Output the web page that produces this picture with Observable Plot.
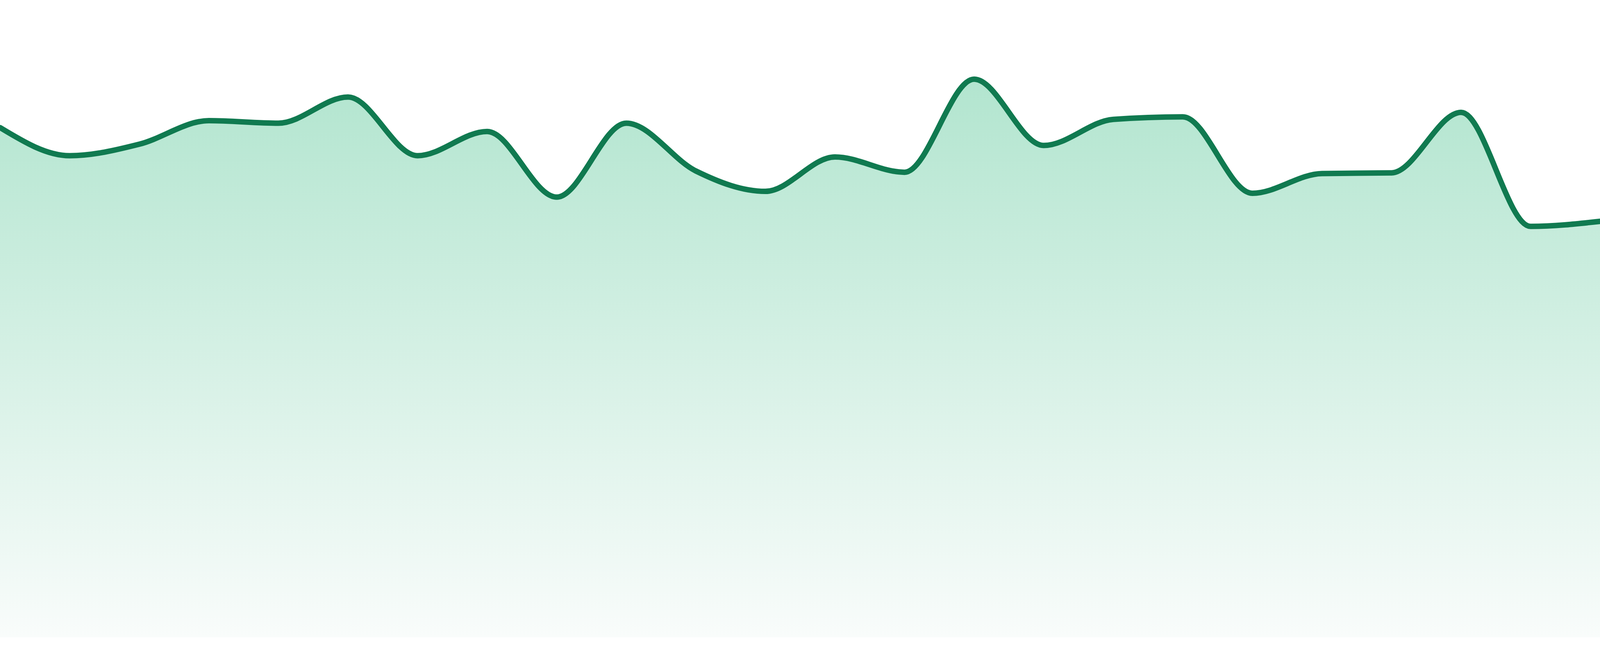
<!DOCTYPE html>
<html>
<head>
<meta charset="utf-8">
<script src="https://cdn.jsdelivr.net/npm/d3@7"></script>
<script src="https://cdn.jsdelivr.net/npm/@observablehq/plot@0.6"></script>
<style>
  html, body { margin: 0; padding: 0; background: #fff; overflow: hidden; }
  #chart svg { display: block; }
</style>
</head>
<body>
<div id="chart"></div>
<script>
// Index of each sample along the x axis
const indices = [0,1,2,3,4,5,6,7,8,9,10,11,12,13,14,15,16,17,18,19,20,21,22,23];
// Series values (0–100 scale)
const values = [80.0, 75.6, 77.4, 81.1, 80.7, 84.8, 75.6, 79.4, 69.1, 80.7, 73.2, 70.0,
                75.4, 73.0, 87.6, 77.2, 81.3, 81.7, 69.7, 72.8, 72.9, 82.4, 64.5, 65.3];

const data = indices.map((i, k) => ({i, v: values[k]}));

const gradientDefs = () => {
  const defs = d3.create("svg:defs");
  const g = defs.append("linearGradient")
    .attr("id", "areaGrad")
    .attr("x1", 0).attr("y1", 0).attr("x2", 0).attr("y2", 1);
  g.append("stop").attr("offset", "0%").attr("stop-color", "#b2e5cf");
  g.append("stop").attr("offset", "100%").attr("stop-color", "#f9fcfb");
  return defs.node();
};

// Fill the window's actual width (the page is asked for at 4800 wide)
const W = Math.min(4800, document.documentElement.clientWidth || 4800);

const chart = Plot.plot({
  width: W,
  height: 1680,
  marginTop: 0,
  marginRight: 0,
  marginBottom: 48,
  marginLeft: 0,
  x: {domain: [0, 23], axis: null},
  y: {domain: [0, 100], axis: null},
  marks: [
    gradientDefs,
    Plot.areaY(data, {x: "i", y: "v", curve: "monotone-x", fill: "url(#areaGrad)"}),
    Plot.lineY(data, {x: "i", y: "v", curve: "monotone-x", stroke: "#107a50", strokeWidth: 14})
  ]
});
document.getElementById("chart").append(chart);
</script>
</body>
</html>
